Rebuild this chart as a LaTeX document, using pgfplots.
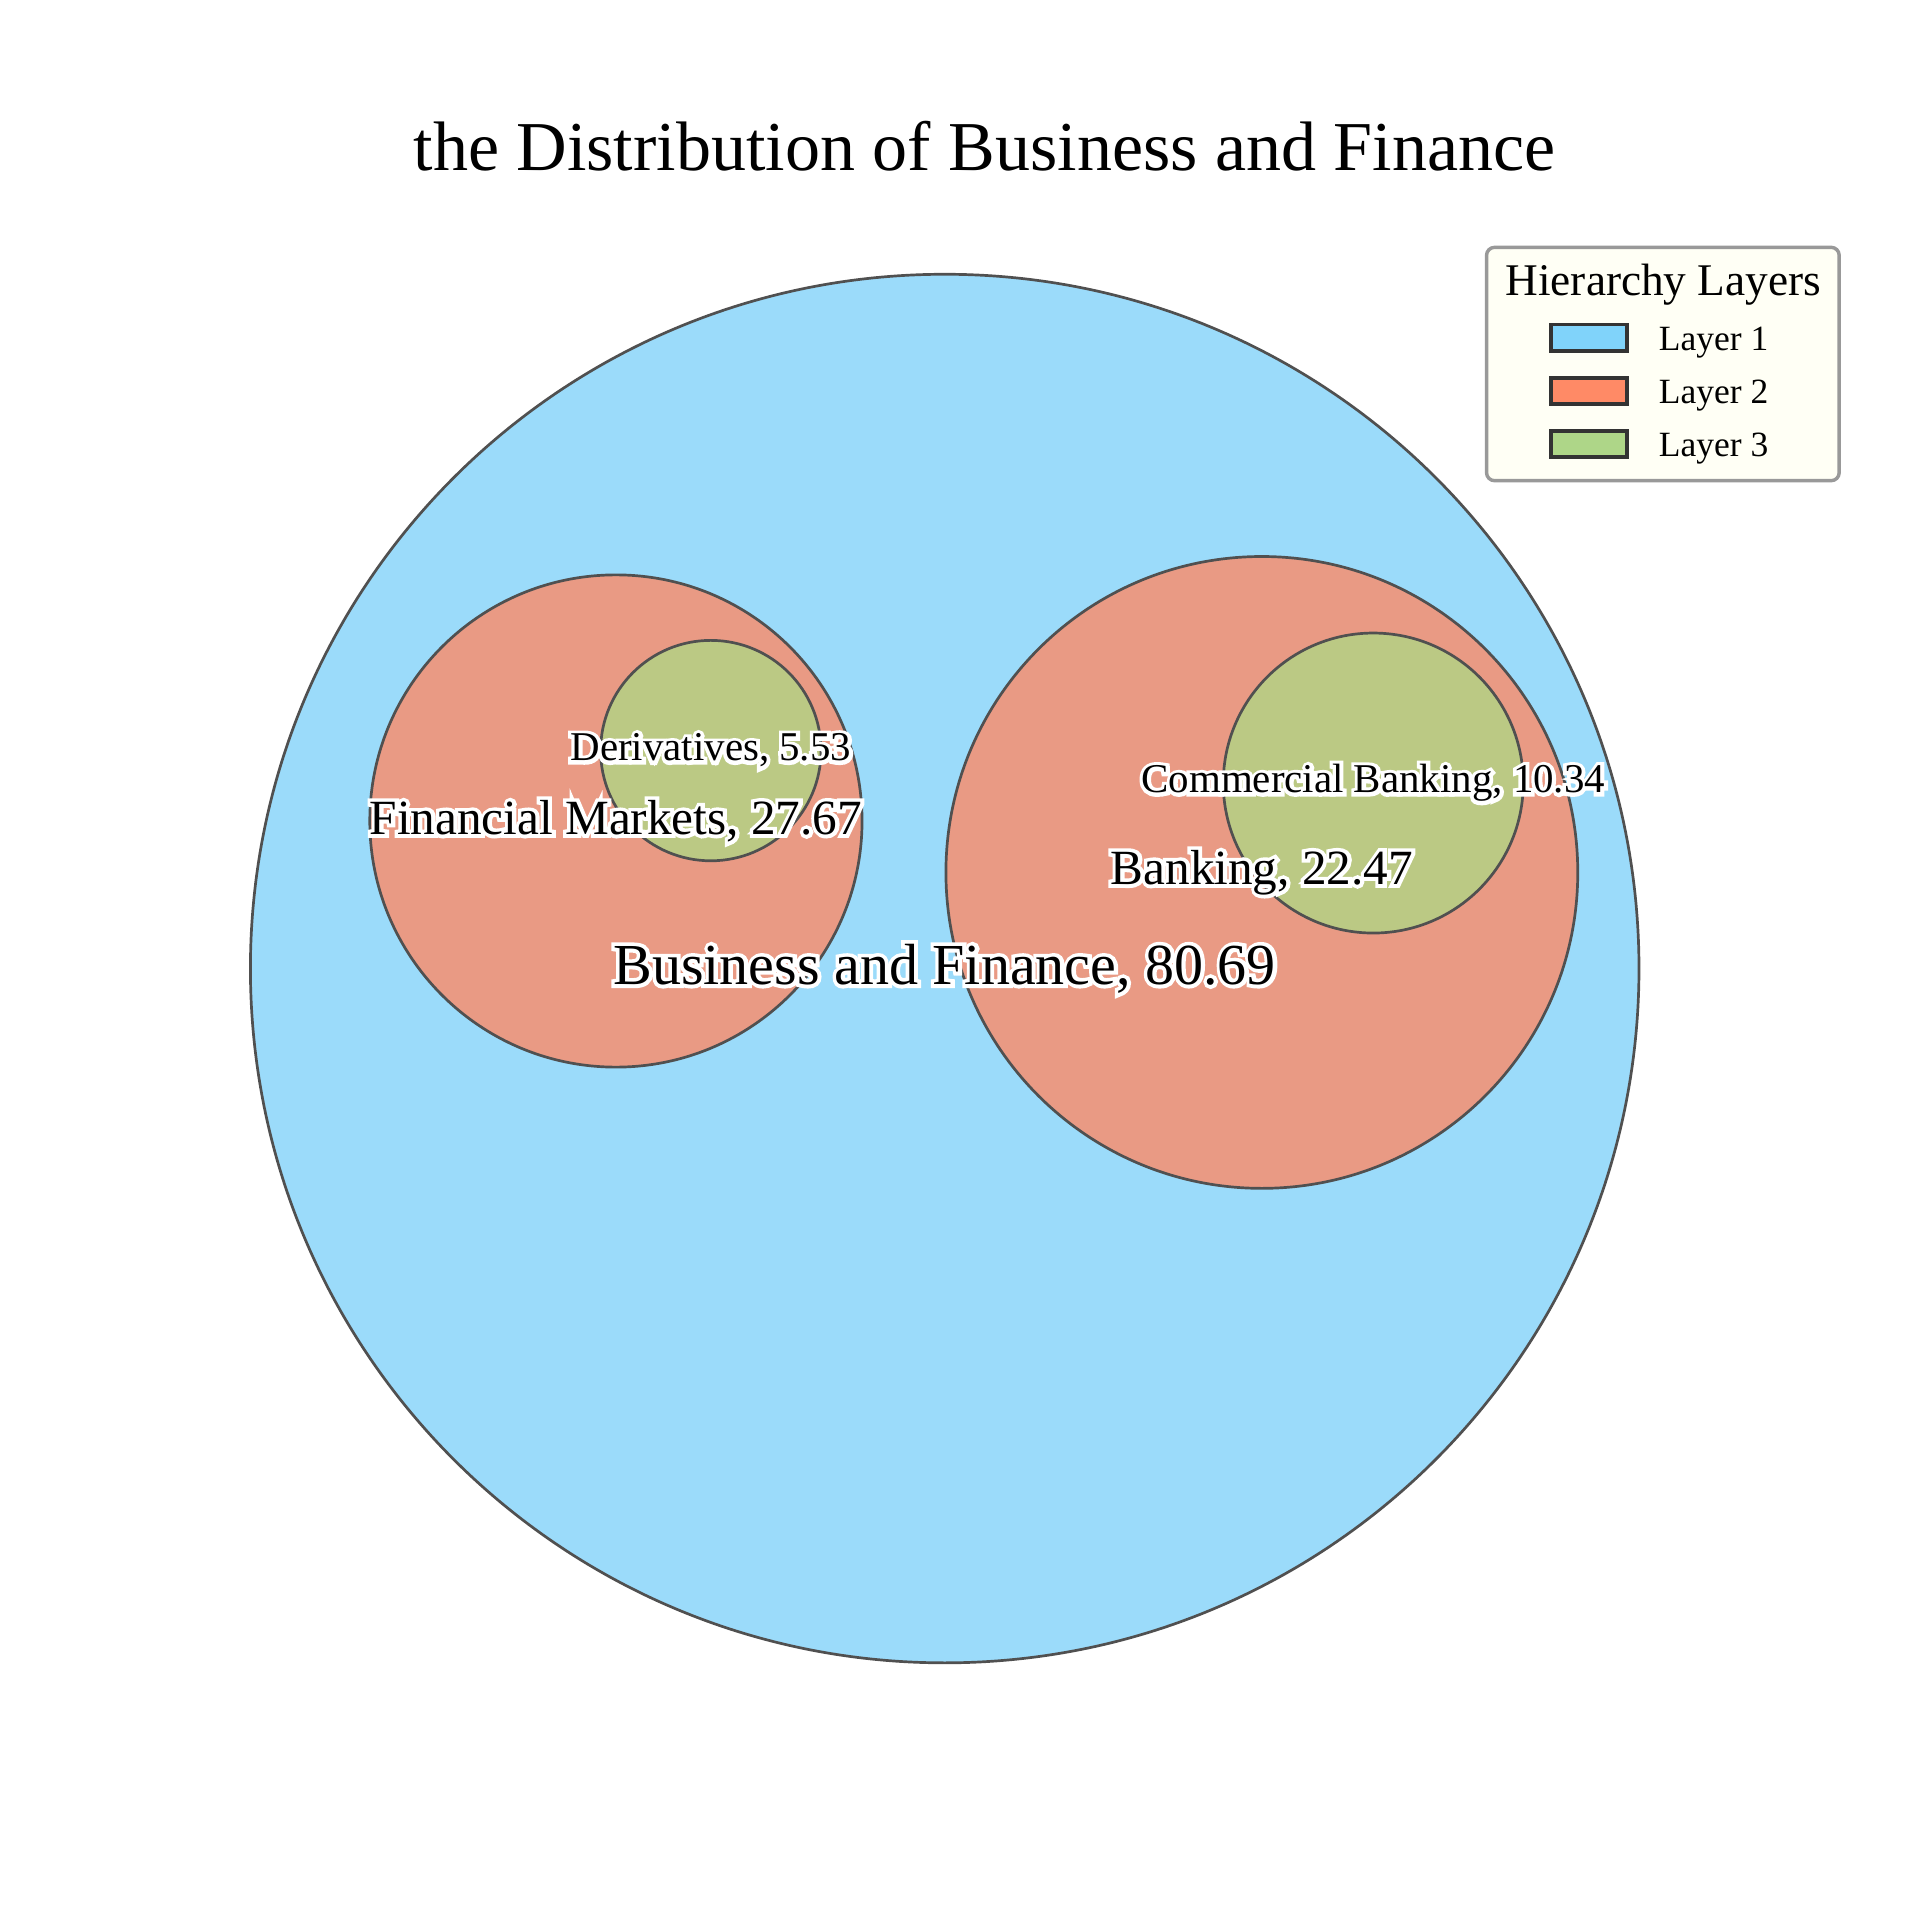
\documentclass[border=0pt]{standalone}
\usepackage{pgfplots}
\pgfplotsset{compat=1.18}
\usepackage{pgfplotstable}
\usepackage{fontspec}
\setmainfont{Liberation Serif}
\newfontfamily\haloA[FakeBold=13]{Liberation Serif}
\newfontfamily\haloB[FakeBold=15]{Liberation Serif}
\newfontfamily\haloC[FakeBold=18]{Liberation Serif}
\definecolor{lone}{HTML}{9BDBFA}
\definecolor{ltwo}{HTML}{E99A84}
\definecolor{lthree}{HTML}{BBC984}
\definecolor{edge}{HTML}{505050}
\definecolor{pone}{HTML}{80D3FA}
\definecolor{ptwo}{HTML}{FF8A66}
\definecolor{pthree}{HTML}{AED688}
\definecolor{legbg}{HTML}{FFFFF5}
\definecolor{legframe}{HTML}{999999}
\definecolor{pedge}{HTML}{333333}

\pgfplotstableread[col sep=semicolon]{
x;y;r;label
771.5;777;567;Business and Finance, 80.69
}\layerone
\pgfplotstableread[col sep=semicolon]{
x;y;r;label
503;897.5;201;Financial Markets, 27.67
1030.5;855.5;258;Banking, 22.47
}\layertwo
\pgfplotstableread[col sep=semicolon]{
x;y;r;label
580.5;955;90;Derivatives, 5.53
1121.5;928.5;122.5;Commercial Banking, 10.34
}\layerthree

\pgfplotsset{
  circ/.style={only marks, mark=*, scatter,
    scatter/use mapped color={draw=edge, fill=#1},
    mark options={line width=1.1pt},
    visualization depends on={0.5*\thisrow{r} \as \rr},
    scatter/@pre marker code/.append style={/tikz/mark size=\rr}},
  lab/.style 2 args={only marks, mark=*, mark size=0pt,
    mark options={draw=none, fill=none},
    nodes near coords, point meta=explicit symbolic,
    every node near coord/.append style={anchor=center, inner sep=0pt, #1, font=#2}},
}

\begin{document}
\begin{tikzpicture}
\begin{axis}[x=0.5pt, y=0.5pt, xmin=0, xmax=1568, ymin=0, ymax=1568,
  hide axis, clip=false, scale only axis]
\addplot[circ=lone] table[x=x, y=y]{\layerone};
\addplot[circ=ltwo] table[x=x, y=y]{\layertwo};
\addplot[circ=lthree] table[x=x, y=y]{\layerthree};

\addplot[lab={text=white}{\haloA\fontsize{23.7}{28}\selectfont}] table[x=x, y=y, meta=label]{\layerone};
\addplot[lab={text=black}{\fontsize{23.7}{28}\selectfont}] table[x=x, y=y, meta=label]{\layerone};
\addplot[lab={text=white}{\haloB\fontsize{20.1}{24}\selectfont}] table[x=x, y=y, meta=label]{\layertwo};
\addplot[lab={text=black}{\fontsize{20.1}{24}\selectfont}] table[x=x, y=y, meta=label]{\layertwo};
\addplot[lab={text=white}{\haloC\fontsize{16.7}{20}\selectfont}] table[x=x, y=y, meta=label]{\layerthree};
\addplot[lab={text=black}{\fontsize{16.7}{20}\selectfont}] table[x=x, y=y, meta=label]{\layerthree};

% title
\node[anchor=base, font=\fontsize{28.6}{34}\selectfont, inner sep=0pt] at (axis cs:804,1429) {the Distribution of Business and Finance};

% legend
\draw[draw=legframe, line width=1.4pt, fill=legbg, rounded corners=3.3pt] (axis cs:1214,1366) rectangle (axis cs:1502,1175.4);
\node[anchor=base, font=\fontsize{18.5}{22}\selectfont, inner sep=0pt] at (axis cs:1358.4,1327) {Hierarchy Layers};
\draw[draw=pedge, line width=1.5pt, fill=pone] (axis cs:1266.8,1281.35) rectangle (axis cs:1328.8,1302.85);
\draw[draw=pedge, line width=1.5pt, fill=ptwo] (axis cs:1266.8,1238.05) rectangle (axis cs:1328.8,1259.55);
\draw[draw=pedge, line width=1.5pt, fill=pthree] (axis cs:1266.8,1194.65) rectangle (axis cs:1328.8,1216.15);
\node[anchor=base west, font=\fontsize{14.5}{17}\selectfont, inner sep=0pt] at (axis cs:1354.3,1281.6) {Layer 1};
\node[anchor=base west, font=\fontsize{14.5}{17}\selectfont, inner sep=0pt] at (axis cs:1354.3,1238.2) {Layer 2};
\node[anchor=base west, font=\fontsize{14.5}{17}\selectfont, inner sep=0pt] at (axis cs:1354.3,1194.9) {Layer 3};
\end{axis}
\pgfresetboundingbox
\path (current axis.south west) rectangle (current axis.north east);
\end{tikzpicture}
\end{document}
